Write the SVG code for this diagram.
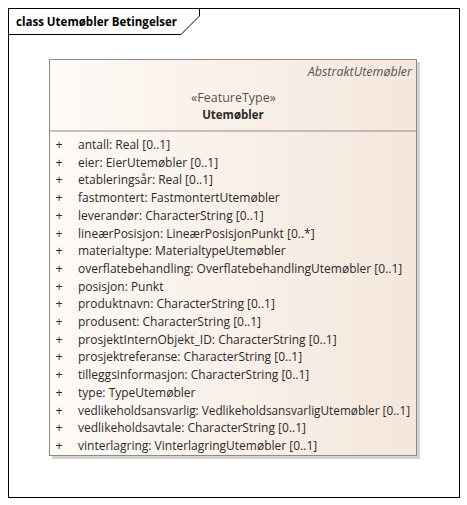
<svg xmlns="http://www.w3.org/2000/svg" width="467" height="505" viewBox="0 0 467 505">
<defs>
<linearGradient id="fill" x1="0" y1="0" x2="1" y2="0">
<stop offset="0" stop-color="#fefaf6"/>
<stop offset="1" stop-color="#f4e7dc"/>
</linearGradient>
<style>
text{font-family:"Open Sans","Noto Sans","Liberation Sans",sans-serif;font-size:12px;fill:#2a2a2a}
.title{font-weight:bold;font-size:12px;fill:#000}
.stereo{fill:#555555;font-size:12.5px}
.name{font-weight:bold;font-size:11.5px}
.abs{font-style:italic;fill:#555555;font-size:12.5px}
.plus{font-size:12.5px}
</style>
</defs>
<rect x="0" y="0" width="467" height="505" fill="#ffffff"/>
<g id="frame">
<rect x="8.5" y="8.5" width="451" height="489" fill="none" stroke="#000" stroke-width="1"/>
<path d="M8.5 34.5 H181 L199.5 16 V8.5" fill="none" stroke="#000" stroke-width="1"/>
<text class="title" x="16" y="26" textLength="161" lengthAdjust="spacingAndGlyphs">class Utemøbler Betingelser</text>
</g>
<g id="connectors"></g>
<g id="Utemobler">
<rect x="52" y="62" width="368" height="397" fill="#c8c8c8" opacity="0.8"/>
<rect x="49.5" y="59.5" width="367" height="396" fill="url(#fill)" stroke="#9a8585" stroke-width="1"/>
<line x1="49.5" y1="131" x2="416.5" y2="131" stroke="#9a8585" stroke-width="1"/>
<text class="abs" x="412" y="76" text-anchor="end">AbstraktUtemøbler</text>
<text class="stereo" x="233.5" y="102" text-anchor="middle">«FeatureType»</text>
<text class="name" x="233" y="119" text-anchor="middle">Utemøbler</text>
<g>
<text class="plus" x="55.5" y="149">+</text><text x="78" y="149">antall: Real [0..1]</text>
<text class="plus" x="55.5" y="166.7">+</text><text x="78" y="166.7">eier: EierUtemøbler [0..1]</text>
<text class="plus" x="55.5" y="184.4">+</text><text x="78" y="184.4">etableringsår: Real [0..1]</text>
<text class="plus" x="55.5" y="202.1">+</text><text x="78" y="202.1">fastmontert: FastmontertUtemøbler</text>
<text class="plus" x="55.5" y="219.8">+</text><text x="78" y="219.8">leverandør: CharacterString [0..1]</text>
<text class="plus" x="55.5" y="237.5">+</text><text x="78" y="237.5">lineærPosisjon: LineærPosisjonPunkt [0..*]</text>
<text class="plus" x="55.5" y="255.2">+</text><text x="78" y="255.2">materialtype: MaterialtypeUtemøbler</text>
<text class="plus" x="55.5" y="272.9">+</text><text x="78" y="272.9">overflatebehandling: OverflatebehandlingUtemøbler [0..1]</text>
<text class="plus" x="55.5" y="290.6">+</text><text x="78" y="290.6">posisjon: Punkt</text>
<text class="plus" x="55.5" y="308.3">+</text><text x="78" y="308.3">produktnavn: CharacterString [0..1]</text>
<text class="plus" x="55.5" y="326">+</text><text x="78" y="326">produsent: CharacterString [0..1]</text>
<text class="plus" x="55.5" y="343.7">+</text><text x="78" y="343.7">prosjektInternObjekt_ID: CharacterString [0..1]</text>
<text class="plus" x="55.5" y="361.4">+</text><text x="78" y="361.4">prosjektreferanse: CharacterString [0..1]</text>
<text class="plus" x="55.5" y="379.1">+</text><text x="78" y="379.1">tilleggsinformasjon: CharacterString [0..1]</text>
<text class="plus" x="55.5" y="396.8">+</text><text x="78" y="396.8">type: TypeUtemøbler</text>
<text class="plus" x="55.5" y="414.5">+</text><text x="78" y="414.5" textLength="332" lengthAdjust="spacingAndGlyphs">vedlikeholdsansvarlig: VedlikeholdsansvarligUtemøbler [0..1]</text>
<text class="plus" x="55.5" y="432.2">+</text><text x="78" y="432.2">vedlikeholdsavtale: CharacterString [0..1]</text>
<text class="plus" x="55.5" y="449.9">+</text><text x="78" y="449.9">vinterlagring: VinterlagringUtemøbler [0..1]</text>
</g>
</g>
</svg>
